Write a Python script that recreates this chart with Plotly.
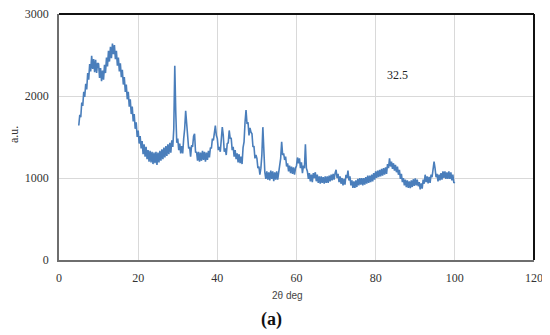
import plotly.graph_objects as go

# 2-theta grid (deg), 0.25 deg sampling from 5 to 100
two_theta = [round(5 + 0.25 * i, 2) for i in range(381)]

# intensity (a.u.), 20 samples per 5 deg
intensity = [
    1640, 1770, 1740, 1920, 1880, 2050, 1990, 2150, 2080, 2280, 2200, 2390, 2300, 2490, 2330, 2450, 2290, 2440, 2280, 2400,
    2390, 2220, 2340, 2180, 2310, 2200, 2380, 2280, 2470, 2360, 2550, 2420, 2600, 2460, 2640, 2510, 2620, 2450, 2550, 2370,
    2470, 2300, 2400, 2230, 2320, 2140, 2230, 2050, 2140, 1960, 2050, 1870, 1960, 1780, 1870, 1690, 1780, 1600, 1680, 1500,
    1580, 1420, 1510, 1360, 1450, 1290, 1410, 1260, 1380, 1230, 1340, 1200, 1330, 1190, 1320, 1170, 1310, 1180, 1320, 1160,
    1310, 1190, 1330, 1210, 1350, 1230, 1370, 1250, 1390, 1270, 1410, 1290, 1430, 1310, 1460, 1380, 1600, 2370, 1800, 1430,
    1480, 1340, 1420, 1300, 1390, 1300, 1480, 1600, 1820, 1620, 1540, 1360, 1380, 1260, 1400, 1380, 1510, 1540, 1310, 1320,
    1210, 1320, 1200, 1310, 1210, 1330, 1220, 1320, 1200, 1310, 1220, 1330, 1250, 1370, 1360, 1480, 1460, 1560, 1640, 1520,
    1480, 1340, 1380, 1320, 1560, 1620, 1520, 1320, 1360, 1280, 1420, 1430, 1580, 1480, 1490, 1340, 1380, 1260, 1340, 1230,
    1300, 1190, 1290, 1180, 1260, 1170, 1370, 1440, 1680, 1830, 1660, 1680, 1520, 1610, 1560, 1540, 1380, 1390, 1240, 1280,
    1240, 1120, 1140, 1040, 1120, 1280, 1620, 1180, 1070, 990, 1080, 980, 1070, 970, 1090, 990, 1080, 960, 1070, 980,
    1080, 980, 1070, 1110, 1240, 1440, 1280, 1300, 1220, 1260, 1140, 1180, 1080, 1150, 1060, 1140, 1050, 1130, 1040, 1120,
    1150, 1250, 1180, 1240, 1120, 1190, 1060, 1150, 1120, 1410, 1120, 1080, 990, 1060, 960, 1040, 950, 1060, 1000, 1070,
    960, 1040, 940, 1020, 930, 1020, 940, 1010, 930, 1020, 940, 1020, 940, 1030, 960, 1040, 970, 1050, 980, 1060,
    1100, 1000, 1050, 950, 1020, 930, 1000, 910, 990, 920, 1040, 1000, 1090, 970, 1020, 910, 970, 880, 960, 880,
    970, 890, 990, 910, 1000, 920, 1000, 910, 1000, 920, 1010, 930, 1030, 940, 1030, 950, 1040, 960, 1060, 980,
    1080, 1000, 1090, 1010, 1100, 1020, 1110, 1030, 1120, 1040, 1130, 1050, 1170, 1120, 1240, 1140, 1200, 1110, 1180, 1090,
    1160, 1070, 1140, 1040, 1100, 990, 1050, 950, 1000, 910, 980, 890, 970, 880, 960, 875, 970, 890, 985, 905,
    995, 910, 980, 900, 950, 860, 935, 870, 980, 930, 1040, 950, 1020, 935, 1015, 940, 1040, 1010, 1130, 1200,
    1120, 1010, 1050, 960, 1040, 970, 1060, 980, 1080, 1000, 1080, 990, 1070, 990, 1080, 990, 1070, 970, 1040, 940,
    950,
]

x_ticks = [0, 20, 40, 60, 80, 100, 120]
y_ticks = [0, 1000, 2000, 3000]

serif = "Liberation Serif"
sans = "Liberation Sans"

fig = go.Figure()
fig.add_trace(go.Scatter(
    x=two_theta, y=intensity, mode="lines",
    line=dict(color="#4A7EBB", width=1.6),
    showlegend=False, hoverinfo="skip",
))

axis_common = dict(
    showgrid=True, gridcolor="#D9D9D9", gridwidth=1,
    showline=True, linecolor="#6E6E6E", linewidth=1.5,
    ticks="outside", ticklen=6, tickcolor="rgba(0,0,0,0)",
    tickfont=dict(family=serif, size=12, color="#333333"),
    ticklabeloverflow="allow",
    zeroline=False, fixedrange=True, automargin=False,
)

fig.update_layout(
    width=542, height=327,
    margin=dict(l=51, r=16, t=6, b=75),
    paper_bgcolor="white", plot_bgcolor="white",
    font=dict(family=serif, size=12, color="#333333"),
    xaxis=dict(range=[0, 120], tickvals=x_ticks,
               ticktext=[str(v) for v in x_ticks], **axis_common),
    yaxis=dict(range=[0, 3000], tickvals=y_ticks,
               ticktext=[str(v) for v in y_ticks], **axis_common),
    shapes=[
        dict(type="line", xref="paper", yref="paper", x0=0, x1=1, y0=1, y1=1,
             line=dict(color="#111111", width=2)),
        dict(type="line", xref="paper", yref="paper", x0=1, x1=1, y0=0, y1=1,
             line=dict(color="#111111", width=2)),
    ],
    annotations=[
        dict(text="32.5", xref="x", yref="y", x=85.6, y=2257, showarrow=False,
             xanchor="center", yanchor="middle",
             font=dict(family=serif, size=12, color="#222222")),
        dict(text="a.u.", xref="paper", yref="paper", x=0, y=0.508, xshift=-45,
             showarrow=False, textangle=-90, xanchor="center", yanchor="middle",
             font=dict(family=serif, size=12, color="#333333")),
        dict(text="2θ deg", xref="paper", yref="paper", x=0.482, y=0, yshift=-35,
             showarrow=False, xanchor="center", yanchor="middle",
             font=dict(family=sans, size=10, color="#444444")),
        dict(text="<b>(a)</b>", xref="paper", yref="paper", x=0.448, y=0, yshift=-59,
             showarrow=False, xanchor="center", yanchor="middle",
             font=dict(family=serif, size=18, color="#111111")),
    ],
)

fig.write_html("out.html")
